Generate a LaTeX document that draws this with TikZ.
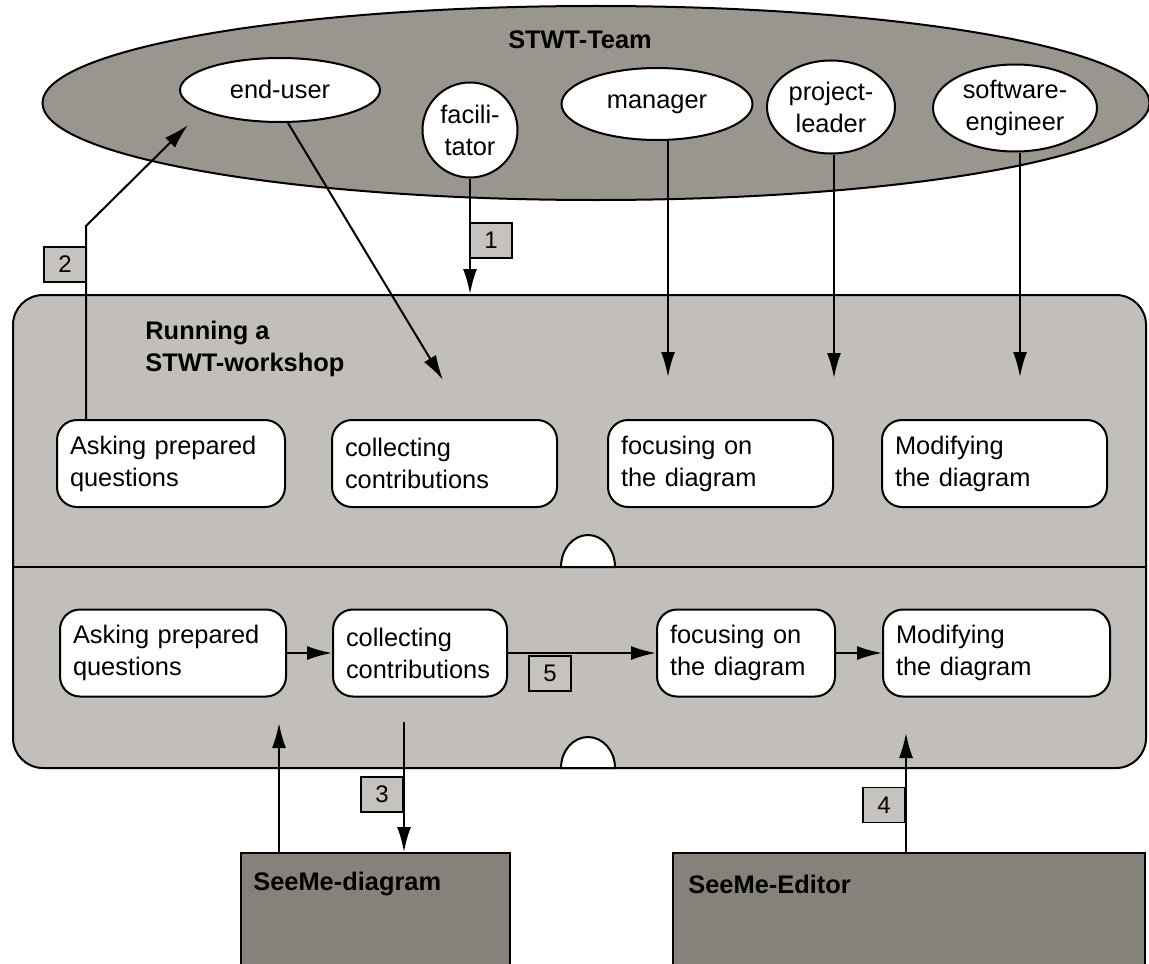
\documentclass[tikz,border=0pt]{standalone}
\usepackage{fontspec}
\setmainfont{Liberation Sans}
\usetikzlibrary{shapes.geometric, arrows.meta, calc}
\definecolor{teamgray}{HTML}{9A958E}
\definecolor{wsgray}{HTML}{C2BEB9}
\definecolor{numgray}{HTML}{C6C2BE}
\definecolor{seegray}{HTML}{86817A}
\newcommand{\dfont}{\fontsize{12.7}{16}\selectfont}
\begin{document}
\begin{tikzpicture}[x=0.5pt,y=-0.5pt,
  every node/.style={font=\dfont},
  role/.style={ellipse, draw=black, line width=1pt, fill=white, inner sep=0pt, align=center},
  actbox/.style={rectangle, rounded corners=10pt, draw=black, line width=1pt, fill=white,
                 minimum height=43.5pt, align=left, inner xsep=6.5pt, text width=#1},
  numbox/.style={rectangle, draw=black, line width=0.9pt, fill=numgray, minimum width=21pt,
                 minimum height=17.5pt, inner sep=0pt, font=\fontsize{12}{14}\selectfont},
  tool/.style={rectangle, draw=black, line width=1pt, fill=seegray, minimum height=68.5pt},
  lbl/.style={inner sep=0pt, font=\dfont\bfseries, align=left},
  arr/.style={line width=1pt, -{Latex[length=12.5pt,width=7pt]}},
  plain/.style={line width=1pt}
  ]
\useasboundingbox (0,0) rectangle (1149,963);

% team ellipse
\node[ellipse, draw=black, line width=1pt, fill=teamgray, inner sep=0pt,
      minimum width=553.5pt, minimum height=97pt] (team) at (596,103) {};
\node[lbl] (teamlbl) at (580,40) {STWT-Team};

\node[role, minimum width=100pt, minimum height=32pt, text depth=1pt] (eu) at (280,90) {end-user};
\node[role, circle, minimum size=47.5pt] (fac) at (470,130) {facili-\\tator};
\node[role, minimum width=95.5pt, minimum height=36pt] (mgr) at (657,104) {manager};
\node[role, minimum width=64pt, minimum height=46.5pt] (pl) at (831,107) {project-\\leader};
\node[role, minimum width=82pt, minimum height=43.5pt] (swe) at (1015,108) {software-\\engineer};

% workshop
\node[rectangle, rounded corners=15pt, draw=black, line width=1pt, fill=wsgray,
      minimum width=566.5pt, minimum height=236.5pt] (ws) at (579.5,531.5) {};
\draw[plain] (13,567) -- (1146,567);
\draw[plain, fill=white] (561,567) arc[start angle=180, end angle=0, x radius=13.5pt, y radius=16pt] -- cycle;
\draw[plain, fill=white] (561,768) arc[start angle=180, end angle=0, x radius=13.5pt, y radius=15.5pt] -- cycle;
\node[lbl, anchor=west] (title) at (145,349) {Running a\\STWT-workshop};

% upper activities
\node[actbox=101pt] (ua) at (171,463.5) {Asking prepared\\questions};
\node[actbox=99.5pt] (ub) at (444.5,463.5) {collecting\\contributions};
\node[actbox=99.5pt] (uc) at (720.5,463.5) {focusing on\\the diagram};
\node[actbox=99.5pt] (ud) at (994.5,463.5) {Modifying\\the diagram};

% lower activities
\node[actbox=100pt] (la) at (173,653) {Asking prepared\\questions};
\node[actbox=74pt] (lb) at (420,653) {collecting\\contributions};
\node[actbox=76pt] (lc) at (746,653) {focusing on\\the diagram};
\node[actbox=100.5pt] (ld) at (996.5,653) {Modifying\\the diagram};

% tools
\node[tool, minimum width=134.5pt] (sd) at (375.5,921.5) {};
\node[tool, minimum width=236pt] (se) at (909,921.5) {};
\node[lbl, anchor=west] (sdl) at (253,884) {SeeMe-diagram};
\node[lbl, anchor=west] (sel) at (688,884) {SeeMe-Editor};

% connectors from team
\coordinate (tcol) at (443,380);
\coordinate (tfoc) at (668,377);
\coordinate (tpl) at (834,378);
\coordinate (tmod) at (1020,377);
\coordinate (t2) at (188,125);
\draw[arr] ($(eu.south)+(8,0)$) -- (tcol);
\draw[arr] ($(mgr.south)+(11,0)$) -- (tfoc);
\draw[arr] ($(pl.south)+(3,0)$) -- (tpl);
\draw[arr] ($(swe.south)+(5,0)$) -- (tmod);
\draw[arr] (fac.south) -- (fac.south |- ws.north);
\draw[arr] ($(ua.north west)+(30,0)$) -- ++(0,-193) -- (t2);

% lower flow
\draw[arr] (la.east) -- (lb.west);
\draw[arr] (lb.east) -- (lc.west);
\draw[arr] (lc.east) -- (ld.west);

% tools connectors
\coordinate (t3a) at (279,723);
\coordinate (s3) at (404,722);
\coordinate (t4) at (906,733);
\draw[arr] (sd.north -| t3a) -- (t3a);
\draw[arr] (s3) -- (s3 |- sd.north);
\draw[arr] (se.north -| t4) -- (t4);

% number boxes
\node[numbox] (n1) at (491,240.5) {1};
\node[numbox] (n2) at (65,264.5) {2};
\node[numbox] (n3) at (382,794.5) {3};
\node[numbox] (n4) at (884,805) {4};
\node[numbox] (n5) at (550,673.5) {5};
\end{tikzpicture}
\end{document}
